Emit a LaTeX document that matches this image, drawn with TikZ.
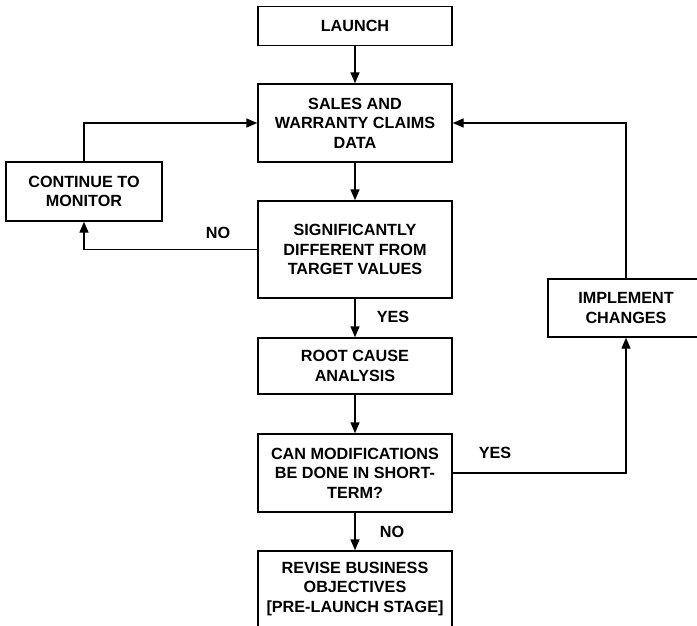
\documentclass[tikz,border=0pt]{standalone}
\usepackage{fontspec}
\setmainfont{Liberation Sans}
\usetikzlibrary{arrows.meta,calc}
\begin{document}
\begin{tikzpicture}[x=1pt,y=-1pt,
  line width=1.4pt,
  every node/.style={font=\fontsize{16.2}{19.5}\selectfont\bfseries},
  box/.style={draw,rectangle,align=center,inner sep=0pt,minimum width=194pt},
  flow/.style={-{Triangle[length=11pt,width=9pt]}},
  lbl/.style={inner sep=0pt}]
  \clip (0,0) rectangle (697,626);

  % main column
  \node[box,minimum height=39pt] (launch) at (355,26) {LAUNCH};
  \node[box,minimum height=78pt] (sales) at (355,123) {SALES AND\\WARRANTY CLAIMS\\DATA};
  \node[box,minimum height=97pt] (sig) at (355,249.5) {SIGNIFICANTLY\\DIFFERENT FROM\\TARGET VALUES};
  \node[box,minimum height=56pt] (root) at (355,366) {ROOT CAUSE\\ANALYSIS};
  \node[box,minimum height=78pt] (can) at (355,473) {CAN MODIFICATIONS\\BE DONE IN SHORT-\\TERM?};
  \node[box,minimum height=76pt] (revise) at (355,589) {REVISE BUSINESS\\OBJECTIVES\\{[PRE-LAUNCH STAGE]}};

  % side boxes
  \node[box,minimum width=156pt,minimum height=59pt] (cont) at (84,191.5) {CONTINUE TO\\MONITOR};
  \node[box,minimum width=156pt,minimum height=58pt] (impl) at (626,308) {IMPLEMENT\\CHANGES};

  % vertical flow
  \draw[flow] (launch) -- (sales);
  \draw[flow] (sales) -- (sig);
  \draw[flow] (sig) -- (root);
  \draw[flow] (root) -- (can);
  \draw[flow] (can) -- (revise);

  % feedback loops
  \draw[flow] (sig.west) -| (cont.south);
  \draw[flow] (cont.north) |- (sales.west);
  \draw[flow] (can.east) -| (impl.south);
  \draw[flow] (impl.north) |- (sales.east);

  % branch labels
  \node[lbl] (yes1) at (393,317) {YES};
  \node[lbl] (no1) at (392,532) {NO};
  \node[lbl] (no2) at (218,233) {NO};
  \node[lbl] (yes2) at (495,453) {YES};
\end{tikzpicture}
\end{document}
